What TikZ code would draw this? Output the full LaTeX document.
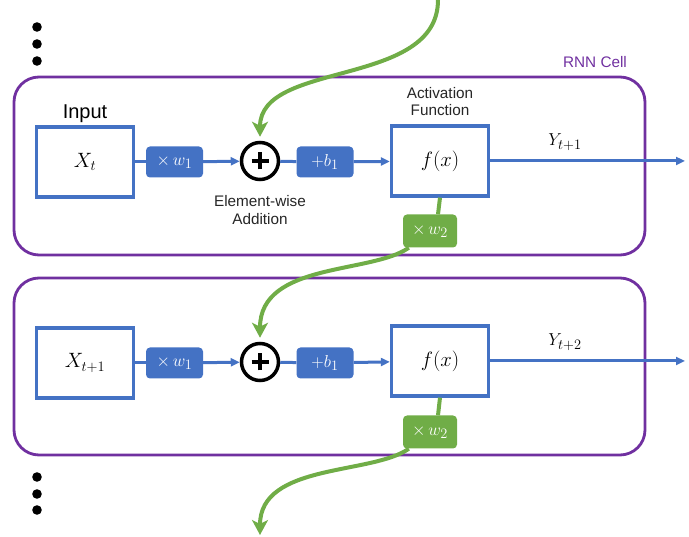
\documentclass[tikz,border=0pt]{standalone}
\usepackage[no-math]{fontspec}
\setmainfont{Liberation Sans}
\usetikzlibrary{positioning,arrows.meta}
\definecolor{rnnblue}{HTML}{4472C4}
\definecolor{rnngreen}{HTML}{70AD47}
\definecolor{rnnpurple}{HTML}{7030A0}

\begin{document}
\begin{tikzpicture}[x=1pt, y=-1pt,
  cell/.style={draw=rnnpurple, line width=2.8pt, rounded corners=25pt},
  fbox/.style={draw=rnnblue, line width=3.3pt, fill=white, minimum width=97pt, minimum height=70pt, inner sep=0pt, font=\fontsize{21}{24}\selectfont},
  wbox/.style={fill=rnnblue, text=white, rounded corners=4pt, minimum width=57pt, minimum height=31pt, inner sep=0pt, font=\fontsize{19}{22}\selectfont},
  gbox/.style={wbox, fill=rnngreen, minimum width=54pt, minimum height=33pt},
  add/.style={circle, draw=black, fill=white, line width=3.5pt, minimum size=37pt, inner sep=0pt},
  lbl/.style={font=\fontsize{15.3}{17.5}\selectfont, align=center, text=black!85},
  arr/.style={-{Triangle[length=9pt,width=8pt]}, draw=rnnblue, line width=3pt},
  lnk/.style={draw=rnnblue, line width=3pt},
  rec/.style={-{Stealth[length=15pt,width=16pt,inset=4pt]}, draw=rnngreen, line width=4pt}]
\useasboundingbox (0,0) rectangle (689,537);
% two RNN cells
\draw[cell] (14,77) rectangle (645,255);
\draw[cell] (14,278) rectangle (645,455);
\node[text=rnnpurple, font=\fontsize{15.3}{17}\selectfont] (name1) at (595,62) {RNN Cell};
% first cell
\node[fbox] (x1) at (85,162) {$X_t$};
\node[wbox] (w1a) at (174.5,162) {$\times\,w_1$};
\node[add] (add1) at (260,161) {};
\node[wbox] (b1a) at (325,162) {$+b_1$};
\node[fbox] (f1) at (440,161) {$f(x)$};
\node[gbox] (w2a) at (430,231) {$\times\,w_2$};
\node[font=\fontsize{19}{22}\selectfont] (yl1) at (565,142) {$Y_{t+1}$};
\coordinate (y1) at (685,161);
\node[above=-1pt of x1, font=\fontsize{20}{22}\selectfont] (in1) {Input};
\node[lbl, above=5pt of f1] (act1) {Activation\\Function};
\node[lbl, below=11pt of add1] (ew1) {Element-wise\\Addition};
% second cell
\node[fbox] (x2) at (85,363) {$X_{t+1}$};
\node[wbox] (w1b) at (174.5,363) {$\times\,w_1$};
\node[add] (add2) at (260,362) {};
\node[wbox] (b1b) at (325,363) {$+b_1$};
\node[fbox] (f2) at (440,361) {$f(x)$};
\node[gbox] (w2b) at (430,432) {$\times\,w_2$};
\node[font=\fontsize{19}{22}\selectfont] (yl2) at (565,342) {$Y_{t+2}$};
\coordinate (y2) at (685,361);
% plus signs
\foreach \a in {add1, add2} {
  \draw[line width=3.6pt] ([xshift=-8.5pt]\a.center) -- ([xshift=8.5pt]\a.center);
  \draw[line width=3.6pt] ([yshift=-8.5pt]\a.center) -- ([yshift=8.5pt]\a.center);
}
% blue connectors
\foreach \u/\v in {x1/w1a, add1/b1a, x2/w1b, add2/b1b} \draw[lnk] (\u) -- (\v);
\foreach \u/\v in {w1a/add1, b1a/f1, f1/y1, w1b/add2, b1b/f2, f2/y2} \draw[arr] (\u) -- (\v);
% recurrent connections
\coordinate (top) at (438,0);
\coordinate (bot) at (260,535);
\draw[rnngreen, line width=4pt] (f1.south) -- ([xshift=8pt]w2a.north);
\draw[rnngreen, line width=4pt] (f2.south) -- ([xshift=8pt]w2b.north);
\draw[rec, shorten >=4pt] (top) .. controls (438,88) and (260,60) .. (add1.north);
\draw[rec, shorten >=4pt] ([xshift=6pt]w2a.south west) .. controls (372,274) and (260,262) .. (add2.north);
\draw[rec] ([xshift=6pt]w2b.south west) .. controls (372,475) and (260,463) .. (bot);
% dots
\foreach \y in {27,44,61,477,494,510} \fill (37,\y) circle (4.8);
\end{tikzpicture}
\end{document}
